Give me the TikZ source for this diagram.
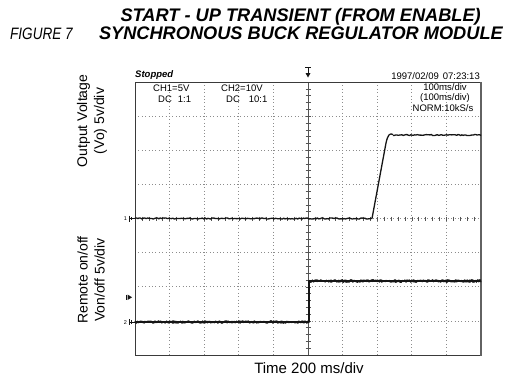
\documentclass[tikz,border=0pt]{standalone}
\usepackage{fontspec}
\setmainfont{Liberation Sans}
\setsansfont{Liberation Sans}
\usetikzlibrary{positioning}
\definecolor{cgrid}{HTML}{8C8C8C}
\definecolor{ctrace}{HTML}{151515}
\definecolor{cframe}{HTML}{3A3A3A}
\tikzset{
  every picture/.style={x=1pt, y=-1pt, font=\sffamily},
  title/.style={font=\fontsize{18.2}{20}\selectfont\bfseries\itshape, anchor=base east, inner sep=0pt},
  caption/.style={font=\fontsize{16.5}{18}\selectfont\itshape, anchor=base west, inner sep=0pt},
  axislabel/.style={font=\fontsize{14}{17}\selectfont, rotate=90, align=center, inner sep=0pt},
  scopetext/.style={font=\fontsize{9.5}{10}\selectfont, inner sep=0pt},
  gridline/.style={draw=cgrid, line width=0.7pt, dash pattern=on 0.7pt off 2.7pt},
  tickmark/.style={draw=cgrid!60!black, line width=0.5pt},
  trace/.style={draw=ctrace, line width=1.3pt, line join=round},
  marker/.style={draw=ctrace, line width=0.6pt},
}

\begin{document}
\begin{tikzpicture}
  \useasboundingbox (0,0) rectangle (505,380);
  \pgfmathsetseed{17}
  % headings
  \node[caption] (fig) at (10,39) {\scalebox{0.82}[1]{FIGURE 7}};
  \node[title] (title1) at (481,21) {START - UP TRANSIENT (FROM ENABLE)};
  \node[title] (title2) at (503,39.5) {SYNCHRONOUS BUCK REGULATOR MODULE};
  \node[axislabel] (vout) at (92,121) {Output Voltage\\(Vo) 5v/div};
  \node[axislabel] (von) at (91,280) {Remote on/off\\Von/off 5v/div};
  \node[font=\fontsize{15}{17}\selectfont, inner sep=0pt] (time) at (309,368) {Time 200 ms/div};
  % graticule
  \foreach \i in {1,...,9}
    \draw[gridline] ({135+34.6*\i},82) -- ({135+34.6*\i},355);
  \foreach \j in {1,...,7}
    \draw[gridline] (135,{82+34.125*\j}) -- (481,{82+34.125*\j});
  \draw[tickmark] (308,82) -- (308,355);
  \foreach \k in {1,...,39}
    \draw[tickmark] (305.5,{82+6.825*\k}) -- (310.5,{82+6.825*\k});
  \foreach \k in {1,...,49}
    \draw[tickmark] ({135+6.92*\k},216.5) -- ({135+6.92*\k},220.5);
  \draw[cframe, line width=0.8pt] (135,82) rectangle (481,355);
  \draw[cgrid!70!black, line width=1.6pt] (481,82) -- (481,355.5);
  % read-outs
  \node[scopetext, anchor=west, font=\fontsize{9.5}{10}\selectfont\bfseries\itshape] (status) at (135,75) {Stopped};
  \node[scopetext, anchor=east] (stamp) at (480,76) {1997/02/09\hspace{4pt}07:23:13};
  \node[scopetext, anchor=west] (ch1) at (153,88) {CH1=5V};
  \node[scopetext, anchor=west] (ch1dc) at (158,99) {DC\hspace{6pt}1:1};
  \node[scopetext, anchor=west] (ch2) at (221,88) {CH2=10V};
  \node[scopetext, anchor=west] (ch2dc) at (226,99) {DC\hspace{9pt}10:1};
  \node[scopetext] (tdiv) at (445,87) {100ms/div};
  \node[scopetext] (tdivb) at (445,98) {(100ms/div)};
  \node[scopetext] (rate) at (443,108.5) {NORM:10kS/s};
  % markers
  \draw[marker] (305,67.5) -- (311,67.5) (308,67.5) -- (308,73);
  \fill[ctrace] (305.5,73) -- (310.5,73) -- (308,77.5) -- cycle;
  \node[font=\fontsize{5.5}{6}\selectfont, inner sep=0pt] (gnd1) at (125.5,219) {1};
  \draw[marker] (129,215.5) -- (129,221.5) (129,218.5) -- (135,218.5) (130.8,216.8) -- (130.8,220.2);
  \node[font=\fontsize{5.5}{6}\selectfont, inner sep=0pt] (gnd2) at (125.5,322.5) {2};
  \draw[marker] (129,319) -- (129,325) (129,322) -- (135,322) (130.8,320.3) -- (130.8,323.7);
  \draw[marker] (126,294.5) -- (126,300);
  \fill[ctrace] (127.5,294.5) -- (132,297.3) -- (127.5,300) -- cycle;
  % channel 1 : output voltage
  \draw[trace] plot[domain=135:372, samples=170, variable=\t] (\t, {218.5+0.6*rand});
  \draw[trace] (372,218.5) -- (386,143) .. controls (388,134) and (390,133) .. (393,134.5);
  \draw[trace] plot[domain=393:481, samples=70, variable=\t] (\t, {135+0.6*rand});
  % channel 2 : remote on/off
  \foreach \p in {1,2}
    \draw[trace, line width=1.1pt] plot[domain=135:309, samples=150, variable=\t] (\t, {322+1.2*rand});
  \draw[trace, line width=1.6pt] (135,322) -- (309,322) -- (309,281) -- (481,281);
  \foreach \p in {1,2}
    \draw[trace, line width=1.1pt] plot[domain=309:481, samples=150, variable=\t] (\t, {281+1.3*rand});
\end{tikzpicture}
\end{document}
